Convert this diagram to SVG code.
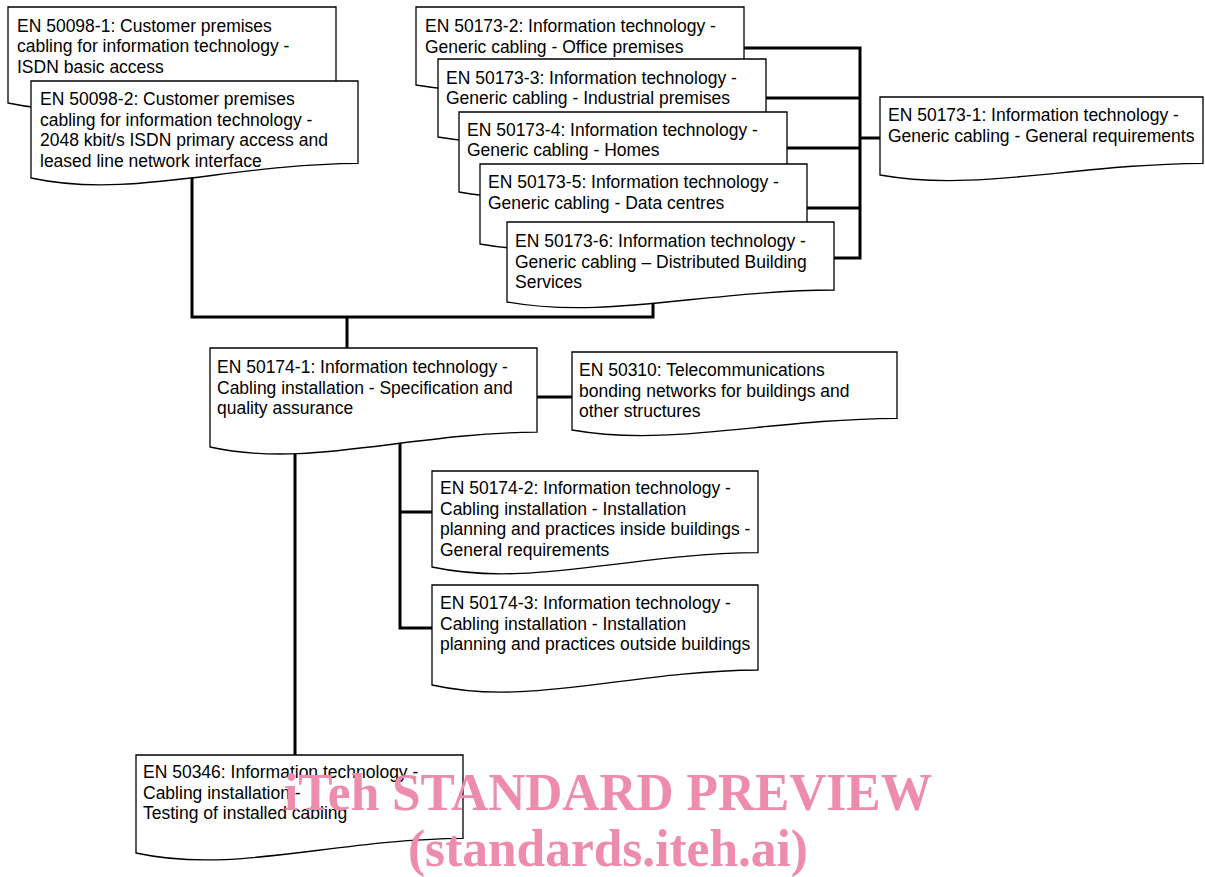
<svg xmlns="http://www.w3.org/2000/svg" width="1205" height="877" viewBox="0 0 1205 877">
<style>
.doc{fill:#fff;stroke:#000;stroke-width:1.3;stroke-linejoin:miter}
.t{font-family:"Liberation Sans",Arial,sans-serif;font-size:17.5px;fill:#000}
.c{fill:none;stroke:#000;stroke-width:3;stroke-linecap:square}
.wm{font-family:"Liberation Serif","Times New Roman",serif;font-weight:bold;font-size:52px;fill:#ee8cab}
</style>
<rect width="1205" height="877" fill="#fff"/>
<g id="connectors">
<path class="c" d="M744,48 H860 M766,98 H860 M787,148 H860 M807,208 H860 M834,258 H860 M860,48 V258 M860,138 H880"/>
<path class="c" d="M192,170 V317 H653 V295 M347,317 V350"/>
<path class="c" d="M537,397 H572"/>
<path class="c" d="M295,440 V760"/>
<path class="c" d="M400,440 V628 H434 M400,512 H434"/>
</g>
<g id="n50098-1">
<path class="doc" d="M8,103 V7 H336 V88.6 C204.8,89.6 106.4,124.1 8,103 Z"/>
<text class="t" x="17" y="31.5">EN 50098-1: Customer premises<tspan x="17" dy="20.6">cabling for information technology -</tspan><tspan x="17" dy="20.6">ISDN basic access</tspan></text>
</g>
<g id="n50098-2">
<path class="doc" d="M31,178 V81 H358 V163.4 C227.2,164.4 129.1,199.3 31,178 Z"/>
<text class="t" x="40" y="105">EN 50098-2: Customer premises<tspan x="40" dy="20.6">cabling for information technology -</tspan><tspan x="40" dy="20.6">2048 kbit/s ISDN primary access and</tspan><tspan x="40" dy="20.6">leased line network interface</tspan></text>
</g>
<g id="n50173-2">
<path class="doc" d="M416,85 V7 H744 V73.3 C612.8,74.1 514.4,102.2 416,85 Z"/>
<text class="t" x="425" y="32">EN 50173-2: Information technology -<tspan x="425" dy="20.6">Generic cabling - Office premises</tspan></text>
</g>
<g id="n50173-3">
<path class="doc" d="M438,137 V59 H766 V125.3 C634.8,126.1 536.4,154.2 438,137 Z"/>
<text class="t" x="446" y="83.5">EN 50173-3: Information technology -<tspan x="446" dy="20.6">Generic cabling - Industrial premises</tspan></text>
</g>
<g id="n50173-4">
<path class="doc" d="M459,192 V112 H787 V180 C655.8,180.8 557.4,209.6 459,192 Z"/>
<text class="t" x="467" y="135.5">EN 50173-4: Information technology -<tspan x="467" dy="20.6">Generic cabling - Homes</tspan></text>
</g>
<g id="n50173-5">
<path class="doc" d="M480,244 V164 H807 V232 C676.2,232.8 578.1,261.6 480,244 Z"/>
<text class="t" x="488" y="188">EN 50173-5: Information technology -<tspan x="488" dy="20.6">Generic cabling - Data centres</tspan></text>
</g>
<g id="n50173-6">
<path class="doc" d="M507,302 V222 H834 V290 C703.2,290.8 605.1,319.6 507,302 Z"/>
<text class="t" x="515" y="247">EN 50173-6: Information technology -<tspan x="515" dy="20.6">Generic cabling – Distributed Building</tspan><tspan x="515" dy="20.6">Services</tspan></text>
</g>
<g id="n50173-1">
<path class="doc" d="M880,175 V97 H1203 V163.3 C1073.8,164.1 976.9,192.2 880,175 Z"/>
<text class="t" x="888" y="121">EN 50173-1: Information technology -<tspan x="888" dy="20.6">Generic cabling - General requirements</tspan></text>
</g>
<g id="n50174-1">
<path class="doc" d="M210,447 V348 H537 V432.2 C406.2,433.1 308.1,468.8 210,447 Z"/>
<text class="t" x="217" y="373">EN 50174-1: Information technology -<tspan x="217" dy="20.6">Cabling installation - Specification and</tspan><tspan x="217" dy="20.6">quality assurance</tspan></text>
</g>
<g id="n50310">
<path class="doc" d="M572,430 V352 H897 V418.3 C767,419.1 669.5,447.2 572,430 Z"/>
<text class="t" x="579" y="376">EN 50310: Telecommunications<tspan x="579" dy="20.6">bonding networks for buildings and</tspan><tspan x="579" dy="20.6">other structures</tspan></text>
</g>
<g id="n50174-2">
<path class="doc" d="M432,567 V471 H758 V552.6 C627.6,553.6 529.8,588.1 432,567 Z"/>
<text class="t" x="440" y="494">EN 50174-2: Information technology -<tspan x="440" dy="20.6">Cabling installation - Installation</tspan><tspan x="440" dy="20.6">planning and practices inside buildings -</tspan><tspan x="440" dy="20.6">General requirements</tspan></text>
</g>
<g id="n50174-3">
<path class="doc" d="M432,685 V585 H758 V670 C627.6,671 529.8,707 432,685 Z"/>
<text class="t" x="440" y="609">EN 50174-3: Information technology -<tspan x="440" dy="20.6">Cabling installation - Installation</tspan><tspan x="440" dy="20.6">planning and practices outside buildings</tspan></text>
</g>
<g id="n50346">
<path class="doc" d="M136,853 V755 H463 V838.3 C332.2,839.3 234.1,874.6 136,853 Z"/>
<text class="t" x="143" y="778">EN 50346: Information technology -<tspan x="143" dy="20.6">Cabling installation -</tspan><tspan x="143" dy="20.6">Testing of installed cabling</tspan></text>
</g>
<g id="watermark">
<text class="wm" x="284" y="810" textLength="648" lengthAdjust="spacingAndGlyphs">iTeh STANDARD PREVIEW</text>
<text class="wm" x="408" y="866" textLength="400" lengthAdjust="spacingAndGlyphs">(standards.iteh.ai)</text>
</g>
</svg>
